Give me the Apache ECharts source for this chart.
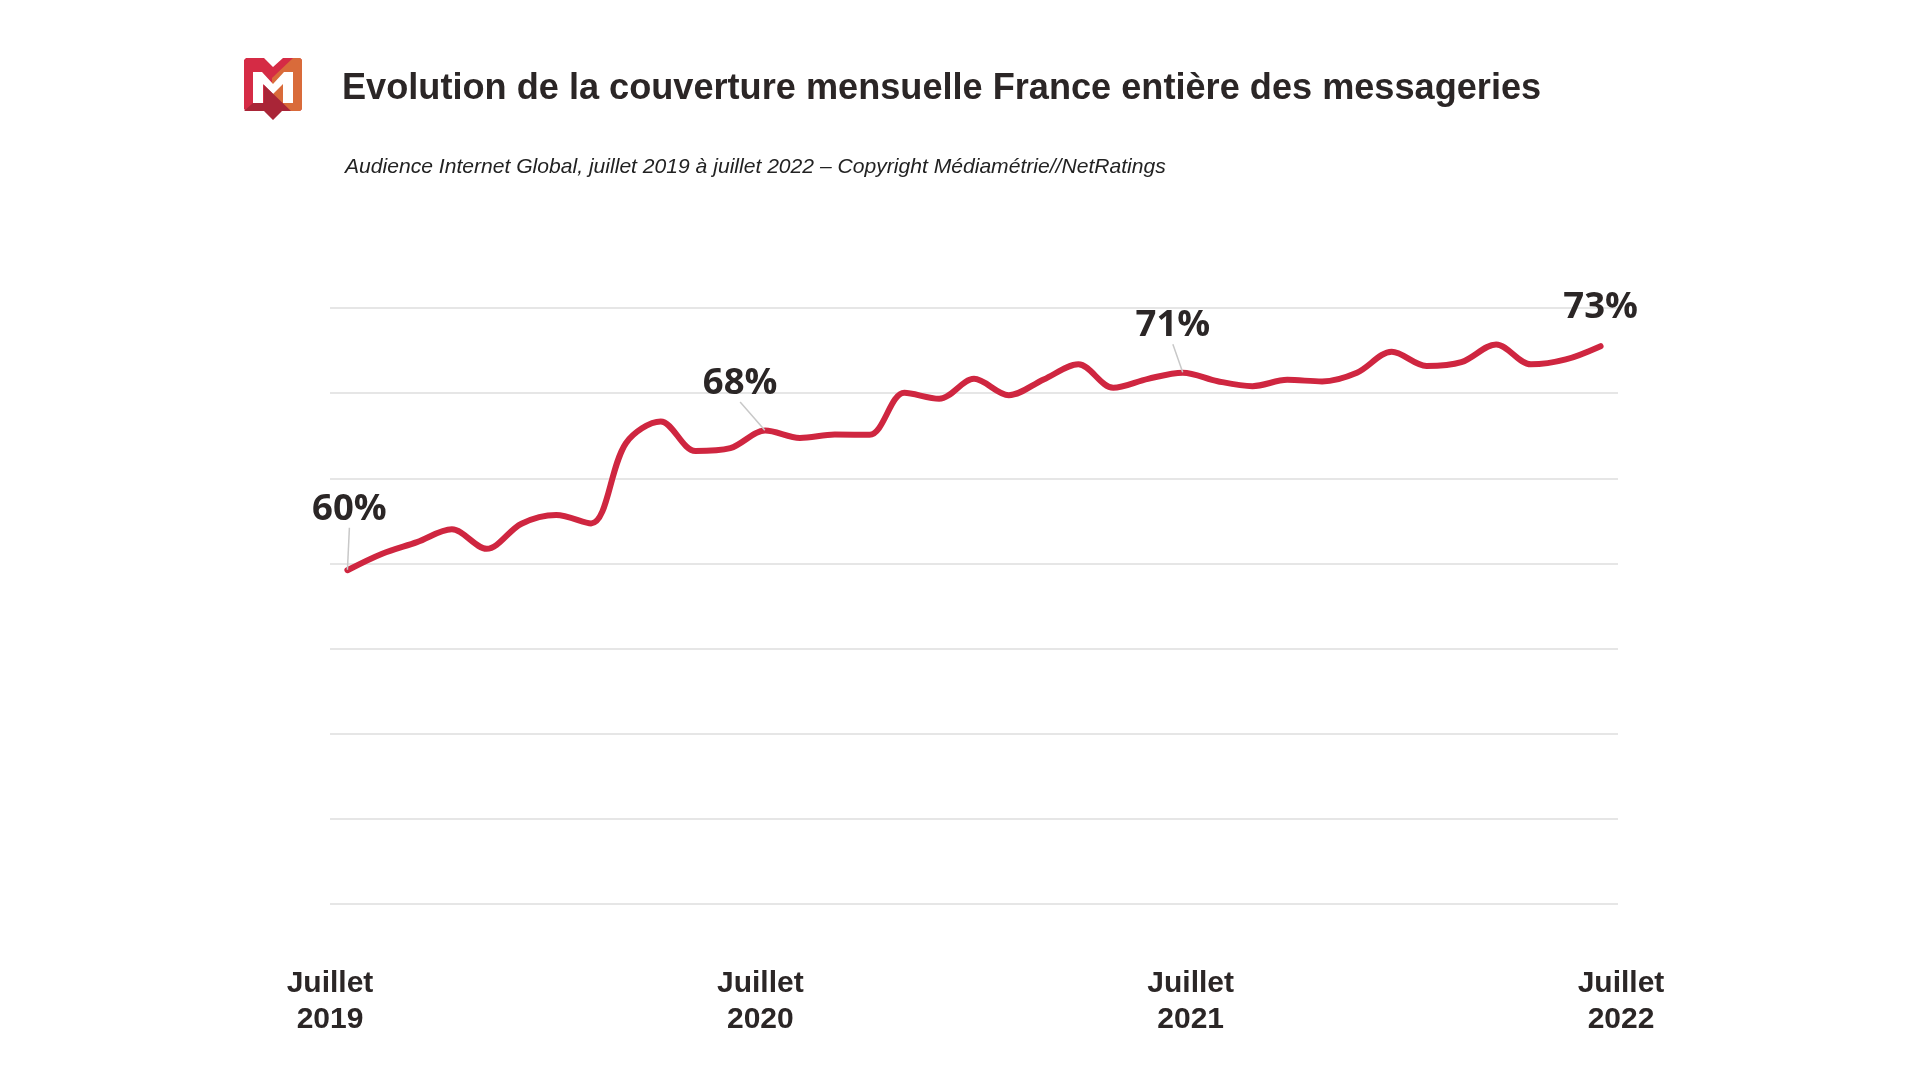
<!DOCTYPE html>
<html>
<head>
<meta charset="utf-8">
<script src="https://cdn.jsdelivr.net/npm/echarts@6/dist/echarts.min.js"></script>
<style>
  html, body { margin: 0; background: #fff; }
  #main { width: 1920px; height: 1080px; }
</style>
</head>
<body>
<div id="main"></div>
<script>
const titleText = 'Evolution de la couverture mensuelle France entière des messageries';
const subtitleText = 'Audience Internet Global, juillet 2019 à juillet 2022 – Copyright Médiamétrie//NetRatings';

const years = [2019, 2019, 2019, 2019, 2019, 2019,
  2020, 2020, 2020, 2020, 2020, 2020, 2020, 2020, 2020, 2020, 2020, 2020,
  2021, 2021, 2021, 2021, 2021, 2021, 2021, 2021, 2021, 2021, 2021, 2021,
  2022, 2022, 2022, 2022, 2022, 2022, 2022];
const monthNames = ['janv', 'févr', 'mars', 'avr', 'mai', 'juin', 'juil', 'août', 'sept', 'oct', 'nov', 'déc'];
const months = years.map((y, i) => monthNames[(i + 6) % 12] + ' ' + y);

const coverage = [59.6, 60.57, 61.25, 62.0, 60.86, 62.33, 62.84, 62.35, 67.06, 68.34, 66.6, 66.77,
  67.8, 67.37, 67.57, 67.55, 70.02, 69.67, 70.84, 69.88, 70.8, 71.69, 70.31, 70.84,
  71.2, 70.7, 70.41, 70.78, 70.69, 71.2, 72.43, 71.6, 71.82, 72.86, 71.69, 71.98, 72.76];

const tickLabels = ['Juillet\n2019', 'Juillet\n2020', 'Juillet\n2021', 'Juillet\n2022'];

// index du mois -> texte affiché
const callouts = { 0: '60%', 12: '68%', 24: '71%', 36: '73%' };
const calloutShift = { 0: [2, -29], 12: [-25, -15], 24: [-10, -15], 36: [0, -7] };
const noLeader = [36];

const chart = echarts.init(document.getElementById('main'));

chart.setOption({
  backgroundColor: '#ffffff',
  animation: false,
  title: [{
    text: titleText,
    left: 342,
    top: 71,
    padding: 0,
    textStyle: { fontFamily: 'Liberation Sans', fontSize: 36.15, fontWeight: 'bold', color: '#2b2626' }
  }, {
    text: subtitleText,
    left: 345,
    top: 157,
    padding: 0,
    textStyle: { fontFamily: 'Liberation Sans', fontSize: 21.1, fontWeight: 'normal', fontStyle: 'italic', color: '#222222' }
  }],
  graphic: [
    { type: 'polygon', shape: { points: [[246, 58], [264, 58], [273, 67], [283, 58], [300, 58], [302, 60], [302, 109], [300, 111], [246, 111], [244, 109], [244, 60]] }, style: { fill: '#d52b45' } },
    { type: 'polygon', shape: { points: [[293, 58], [300, 58], [302, 60], [302, 109], [300, 111], [280, 111], [272, 100], [272, 78]] }, style: { fill: '#d96b3a' } },
    { type: 'polygon', shape: { points: [[253, 72], [262, 72], [273, 84], [284, 72], [293, 72], [293, 103], [283, 103], [283, 84], [273, 94], [263, 84], [263, 103], [253, 103]] }, style: { fill: '#ffffff' } },
    { type: 'polygon', shape: { points: [[264, 85], [291, 111], [282, 111], [273, 120], [264, 111], [244, 111], [253, 103], [264, 103]] }, style: { fill: '#a92537' } }
  ],
  grid: [
    { left: 330, top: 308, width: 1288, height: 596 },
    { left: 330, top: 308, width: 1291, height: 596 }
  ],
  xAxis: [{
    type: 'category',
    gridIndex: 0,
    data: months,
    boundaryGap: true,
    axisLine: { show: false },
    axisTick: { show: false },
    axisLabel: { show: false }
  }, {
    type: 'category',
    gridIndex: 1,
    data: tickLabels,
    boundaryGap: false,
    axisLine: { show: false },
    axisTick: { show: false },
    axisLabel: {
      interval: 0,
      margin: 62,
      fontFamily: 'Liberation Sans',
      fontSize: 30,
      fontWeight: 'bold',
      lineHeight: 36,
      color: '#2b2626'
    }
  }],
  yAxis: [{
    type: 'value',
    gridIndex: 0,
    min: 40,
    max: 75,
    interval: 5,
    axisLine: { show: false },
    axisTick: { show: false },
    axisLabel: { show: false },
    splitLine: { lineStyle: { color: '#e6e6e6', width: 2 } }
  }, {
    type: 'value',
    gridIndex: 1,
    min: 40,
    max: 75,
    show: false
  }],
  series: [{
    type: 'line',
    xAxisIndex: 0,
    yAxisIndex: 0,
    data: coverage.map((v, i) => callouts[i] ? {
      value: v,
      label: { show: true, formatter: callouts[i] },
      labelLine: { show: !noLeader.includes(i) }
    } : v),
    smooth: 0.33,
    symbol: 'circle',
    symbolSize: 1,
    showAllSymbol: true,
    itemStyle: { color: 'rgba(0,0,0,0)' },
    lineStyle: { color: '#cf2640', width: 6, cap: 'round' },
    label: {
      show: false,
      position: 'top',
      fontFamily: 'Open Sans',
      fontSize: 36.5,
      fontWeight: 'bold',
      color: '#2b2626',
      padding: [0, 0, 8, 0]
    },
    labelLine: { show: true, lineStyle: { color: '#c8c8c8', width: 1.5 } },
    labelLayout: function (params) {
      const shift = calloutShift[params.dataIndex];
      return shift ? { dx: shift[0], dy: shift[1] } : {};
    }
  }]
});
</script>
</body>
</html>
